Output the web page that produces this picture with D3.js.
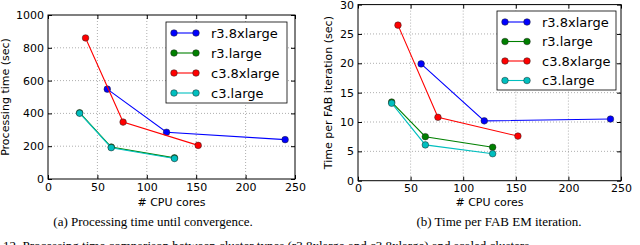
<!DOCTYPE html>
<html>
<head>
<meta charset="utf-8">
<script src="https://cdn.jsdelivr.net/npm/d3@7"></script>
<style>
  html, body { margin: 0; padding: 0; background: #fff; }
  svg { display: block; }
  text { font-family: "DejaVu Sans", sans-serif; fill: #000; }
  .caption { font-family: "Liberation Serif", "Times New Roman", serif; }
</style>
</head>
<body>
<div id="chart"></div>
<script>
// series names + colours (matplotlib classic b, g, r, c)
const seriesNames = ["r3.8xlarge", "r3.large", "c3.8xlarge", "c3.large"]
const seriesColors = ["#0000ff", "#008000", "#ff0000", "#00bfbf"]

// x = number of CPU cores per cluster setup
const coresR38 = [60, 120, 240]
const coresR3 = [32, 64, 128]
const coresC38 = [38, 76, 152]
const coresC3 = [32, 64, 128]

// (a) processing time until convergence (sec)
const procR38 = [548, 285, 240]
const procR3 = [404, 195, 129]
const procC38 = [860, 347, 205]
const procC3 = [401, 191, 125]

// (b) time per FAB EM iteration (sec)
const iterR38 = [19.9, 10.2, 10.5]
const iterR3 = [13.4, 7.5, 5.7]
const iterC38 = [26.5, 10.8, 7.6]
const iterC3 = [13.2, 6.1, 4.6]

const xTicks = [0, 50, 100, 150, 200, 250]
const yTicksA = [0, 200, 400, 600, 800, 1000]
const yTicksB = [0, 5, 10, 15, 20, 25, 30]

const width = 640, height = 245

const svg = d3.select("#chart")
  .append("svg")
    .attr("width", width)
    .attr("height", height)

function drawPanel(opt){
    const x = d3.scaleLinear().domain([0, 250]).range([opt.left, opt.right])
    const y = d3.scaleLinear().domain(opt.yDomain).range([opt.bottom, opt.top])
    const g = svg.append("g")

    // dotted grid
    g.selectAll(".gx").data(xTicks.slice(1, -1)).join("line")
        .attr("x1", d => x(d)).attr("x2", d => x(d))
        .attr("y1", opt.top).attr("y2", opt.bottom)
        .attr("stroke", "#777").attr("stroke-width", 0.6).attr("stroke-dasharray", "1,2")
    g.selectAll(".gy").data(opt.yTicks.slice(1, -1)).join("line")
        .attr("x1", opt.left).attr("x2", opt.right)
        .attr("y1", d => y(d)).attr("y2", d => y(d))
        .attr("stroke", "#777").attr("stroke-width", 0.6).attr("stroke-dasharray", "1,2")

    // axes, ticks pointing inward like matplotlib classic
    const fs = "11px"
    const fmt = d3.format("d")
    g.append("g").attr("transform", `translate(0,${opt.bottom})`)
        .call(d3.axisBottom(x).tickValues(xTicks).tickFormat(fmt).tickSizeInner(-4).tickSizeOuter(0).tickPadding(4))
        .call(a => a.select(".domain").remove())
        .call(a => a.selectAll("text").attr("font-size", fs).attr("font-family", "DejaVu Sans"))
    g.append("g").attr("transform", `translate(0,${opt.top})`)
        .call(d3.axisTop(x).tickValues(xTicks).tickSizeInner(-4).tickSizeOuter(0).tickFormat(""))
        .call(a => a.select(".domain").remove())
    g.append("g").attr("transform", `translate(${opt.left},0)`)
        .call(d3.axisLeft(y).tickValues(opt.yTicks).tickFormat(fmt).tickSizeInner(-4).tickSizeOuter(0).tickPadding(4))
        .call(a => a.select(".domain").remove())
        .call(a => a.selectAll("text").attr("font-size", fs).attr("font-family", "DejaVu Sans"))
    g.append("g").attr("transform", `translate(${opt.right},0)`)
        .call(d3.axisRight(y).tickValues(opt.yTicks).tickSizeInner(-4).tickSizeOuter(0).tickFormat(""))
        .call(a => a.select(".domain").remove())

    g.append("rect")
        .attr("x", opt.left).attr("y", opt.top)
        .attr("width", opt.right - opt.left).attr("height", opt.bottom - opt.top)
        .attr("fill", "none").attr("stroke", "#000").attr("stroke-width", 1)

    // series
    const line = d3.line().x(d => x(d[0])).y(d => y(d[1]))
    opt.series.forEach((s, i) => {
        const pts = s.xs.map((v, k) => [v, s.ys[k]])
        g.append("path").datum(pts)
            .attr("d", line)
            .attr("fill", "none")
            .attr("stroke", seriesColors[i])
            .attr("stroke-width", 1.1)
        g.selectAll(null).data(pts).join("circle")
            .attr("cx", d => x(d[0])).attr("cy", d => y(d[1]))
            .attr("r", 3.3)
            .attr("fill", seriesColors[i])
            .attr("stroke", "#222").attr("stroke-width", 0.5)
    })

    // axis labels
    g.append("text")
        .attr("x", (opt.left + opt.right) / 2).attr("y", 206)
        .attr("text-anchor", "middle").attr("font-size", "11px")
        .text("# CPU cores")
    g.append("text")
        .attr("transform", `translate(${opt.yLabelX},${(opt.top + opt.bottom) / 2}) rotate(-90)`)
        .attr("text-anchor", "middle").attr("font-size", "11px")
        .text(opt.yLabel)

    // legend
    const L = opt.legend
    g.append("rect")
        .attr("x", L.x).attr("y", L.y).attr("width", L.w).attr("height", L.h)
        .attr("fill", "#fff").attr("stroke", "#000").attr("stroke-width", 0.8)
    seriesNames.forEach((name, i) => {
        const yy = L.y + 11 + i * L.step
        g.append("line")
            .attr("x1", L.x + 8).attr("x2", L.x + 30)
            .attr("y1", yy).attr("y2", yy)
            .attr("stroke", seriesColors[i]).attr("stroke-width", 1.1)
        ;[L.x + 8, L.x + 30].forEach(cx => {
            g.append("circle").attr("cx", cx).attr("cy", yy).attr("r", 3.3)
                .attr("fill", seriesColors[i]).attr("stroke", "#222").attr("stroke-width", 0.5)
        })
        g.append("text")
            .attr("x", L.x + 45).attr("y", yy + 4.5)
            .attr("font-size", "13px")
            .text(name)
    })

    // caption
    svg.append("text").attr("class", "caption")
        .attr("x", opt.captionX).attr("y", 226)
        .attr("text-anchor", "middle").attr("font-size", "13px")
        .text(opt.caption)
}

drawPanel({
    left: 48, right: 295, top: 15, bottom: 179,
    yDomain: [0, 1000], yTicks: yTicksA,
    yLabel: "Processing time (sec)", yLabelX: 9,
    series: [
        { xs: coresR38, ys: procR38 },
        { xs: coresR3, ys: procR3 },
        { xs: coresC38, ys: procC38 },
        { xs: coresC3, ys: procC3 }
    ],
    legend: { x: 166, y: 22, w: 121, h: 81, step: 20 },
    caption: "(a) Processing time until convergence.", captionX: 153
})

drawPanel({
    left: 358, right: 621, top: 4.6, bottom: 180.7,
    yDomain: [0, 30], yTicks: yTicksB,
    yLabel: "Time per FAB iteration (sec)", yLabelX: 332,
    series: [
        { xs: coresR38, ys: iterR38 },
        { xs: coresR3, ys: iterR3 },
        { xs: coresC38, ys: iterC38 },
        { xs: coresC3, ys: iterC3 }
    ],
    legend: { x: 497, y: 11, w: 119, h: 79, step: 19.5 },
    caption: "(b) Time per FAB EM iteration.", captionX: 499
})

// first line of the figure caption, cut off by the bottom edge like in the source
svg.append("text").attr("class", "caption")
    .attr("x", 3).attr("y", 250)
    .attr("font-size", "13px")
    .text("12.  Processing time comparison between cluster types (r3.8xlarge and c3.8xlarge) and scaled clusters")
</script>
</body>
</html>
